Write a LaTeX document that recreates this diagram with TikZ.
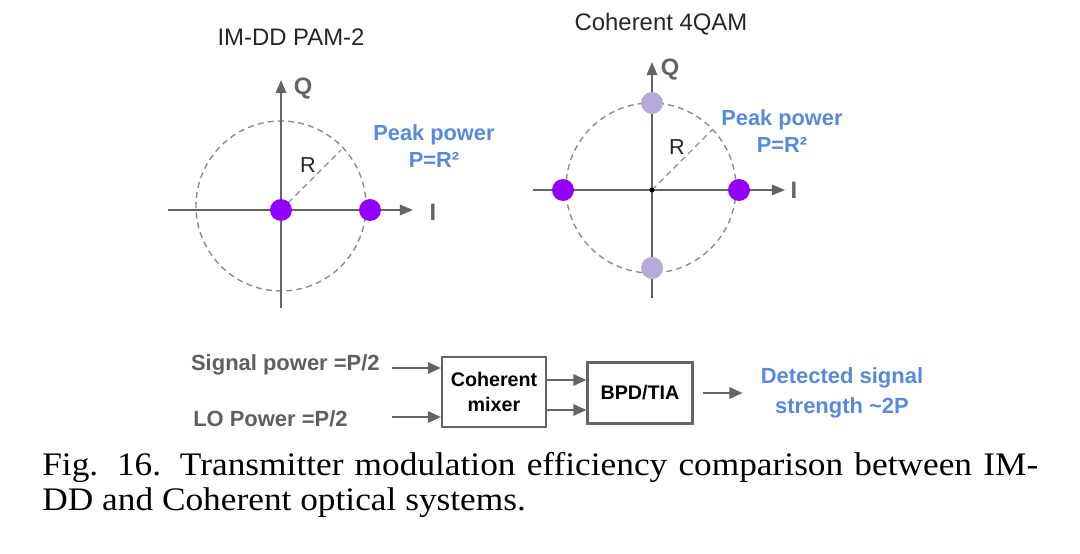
\documentclass[tikz,border=0pt]{standalone}
\usepackage{fontspec}
\setmainfont{Liberation Serif}
\setsansfont{Liberation Sans}
\newfontfamily\capfont[FakeStretch=1.075]{Liberation Serif}
\usetikzlibrary{arrows.meta,positioning}
\definecolor{dotpurple}{RGB}{145,0,255}
\definecolor{dotlilac}{RGB}{182,170,216}
\definecolor{peakblue}{RGB}{88,138,218}
\definecolor{axisgray}{RGB}{100,100,100}
\definecolor{ringgray}{RGB}{140,140,140}
\definecolor{labelgray}{RGB}{95,95,95}

\tikzset{
  axis/.style={axisgray,line width=1.1pt,-{Triangle[length=7.5pt,width=6pt]}},
  ring/.style={ringgray,line width=0.8pt,dash pattern=on 3.4pt off 2.4pt},
  flow/.style={axisgray,line width=1.2pt,-{Triangle[length=7.5pt,width=6.5pt]}},
  blockbox/.style={draw=axisgray,line width=1.2pt,align=center,inner sep=0pt,
    font=\sffamily\bfseries\fontsize{11.2}{14.2}\selectfont},
  title/.style={font=\sffamily\fontsize{13.6}{16}\selectfont,text=black!85},
  axlabel/.style={font=\sffamily\bfseries\fontsize{13.5}{16}\selectfont,text=axisgray,inner sep=0pt},
  rlabel/.style={font=\sffamily\fontsize{12.3}{14}\selectfont,text=black!85,inner sep=0pt},
  peak/.style={font=\sffamily\bfseries\fontsize{12.4}{15.3}\selectfont,text=peakblue,align=center,inner sep=0pt},
  inlabel/.style={font=\sffamily\bfseries\fontsize{12.5}{14}\selectfont,text=labelgray,inner sep=0pt},
}

\begin{document}
\begin{tikzpicture}[x=0.02cm,y=-0.02cm]
\useasboundingbox (0,0) rectangle (1080,554);

% IM-DD PAM-2
\node[title] (t1) at (291,37) {IM-DD PAM-2};
\coordinate (o1) at (281,210);
\draw[ring] (281,206) circle[radius=85];
\draw[axis] (168,210) -- (413,210);
\draw[axis] (281,308) -- (281,80);
\draw[ring] (o1) -- ++(60,-60);
\node[axlabel] (q1) at (303,89) {Q};
\node[axlabel] (i1) at (433,212) {I};
\node[rlabel] (r1) at (308,165) {R};
\node[peak] (pk1) at (434,146) {Peak power\\P=R²};
\foreach \x in {281,370}
   \fill[dotpurple] (\x,210) circle[radius=11];

% Coherent 4QAM
\node[title] (t2) at (661,24) {Coherent 4QAM};
\coordinate (o2) at (652,190);
\draw[ring] (651,188) circle[radius=85];
\draw[axis] (533,190) -- (785,190);
\draw[axis] (652,298) -- (652,62);
\draw[ring] (o2) -- ++(60,-60);
\fill (o2) circle[radius=2.5];
\node[axlabel] (q2) at (670,70) {Q};
\node[axlabel] (i2) at (794,190) {I};
\node[rlabel] (r2) at (677,147) {R};
\node[peak] (pk2) at (782,131) {Peak power\\P=R²};
\foreach \x/\y/\c in {563/190/dotpurple,739/190/dotpurple,652/103/dotlilac,652/268/dotlilac}
   \fill[\c] (\x,\y) circle[radius=11];

% receiver chain
\node[blockbox,minimum width=2.08cm,minimum height=1.4cm] (mixer) at (494,392) {Coherent\\mixer};
\node[blockbox,minimum width=2.1cm,minimum height=1.22cm] (bpd) at (640,393) {BPD/TIA};
\node[inlabel,anchor=east] (sig) at (380,365) {Signal power =P/2};
\node[inlabel,anchor=east] (lo) at (348,419) {LO Power =P/2};
\node[peak,font=\sffamily\bfseries\fontsize{12.5}{17}\selectfont] (det) at (842,393) {Detected signal\\strength \textasciitilde 2P};
\coordinate (sigtail) at (392,368);
\coordinate (lotail) at (392,417);
\coordinate (up) at (547,380);
\coordinate (dn) at (547,410);
\draw[flow] (sigtail) -- (sigtail -| mixer.west);
\draw[flow] (lotail) -- (lotail -| mixer.west);
\draw[flow] (up -| mixer.east) -- (up -| bpd.west);
\draw[flow] (dn -| mixer.east) -- (dn -| bpd.west);
\draw[flow] ([xshift=0.18cm]bpd.east) -- ([xshift=-0.36cm]det.west);

\node[anchor=north west,inner sep=0pt,text width=19.92cm,align=justify,
      font=\capfont\fontsize{18.7}{19.8}\selectfont] (cap) at (42,452)
  {Fig. 16. Transmitter modulation efficiency comparison between IM-\linebreak DD and Coherent optical systems.};
\end{tikzpicture}
\end{document}
